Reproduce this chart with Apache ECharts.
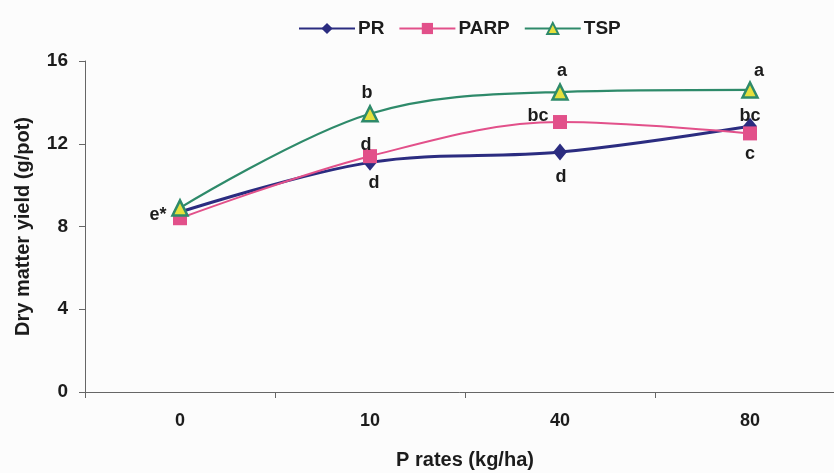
<!DOCTYPE html>
<html>
<head>
<meta charset="utf-8">
<script src="https://cdn.jsdelivr.net/npm/echarts@6/dist/echarts.min.js"></script>
<style>
  html, body { margin: 0; padding: 0; background: #fcfcfc; }
  #chart { width: 834px; height: 473px; }
</style>
</head>
<body>
<div id="chart"></div>
<script>
// P application rates (kg/ha)
const rates = ['0', '10', '40', '80'];

// Dry matter yield (g/pot) per P source
const prYield   = [8.7, 11.1, 11.6, 12.85];
const parpYield = [8.4, 11.4, 13.05, 12.5];
const tspYield  = [8.9, 13.45, 14.5, 14.6];

// Significance letters per point
const prLetters   = ['', 'd', 'd', 'bc'];
const parpLetters = ['', 'd', 'bc', 'c'];
const tspLetters  = ['e*', 'b', 'a', 'a'];

const yTicks = [0, 4, 8, 12, 16];

const FONT = 'Liberation Sans, Arial, sans-serif';
const INK = '#1c1c1c';
const letterStyle = { fontFamily: FONT, fontWeight: 'bold', fontSize: 18, color: INK };

// label offsets from each point's centre, in pixels
const prOffsets   = [null, [4, 21], [1, 25], [0, -10]];
const parpOffsets = [null, [-4, -11], [-22, -6], [0, 21]];
const tspOffsets  = [[-22, 7], [-3, -21], [2, -21], [9, -19]];

function withLetters(values, letters, offsets) {
  return values.map((v, i) => ({
    value: v,
    label: letters[i]
      ? Object.assign({ show: true, formatter: letters[i], position: 'inside', offset: offsets[i] }, letterStyle)
      : { show: false }
  }));
}

const chart = echarts.init(document.getElementById('chart'));
chart.setOption({
  backgroundColor: '#fcfcfc',
  animation: false,
  legend: {
    top: 14,
    left: 293,
    itemWidth: 56,
    itemHeight: 14,
    itemGap: 14,
    textStyle: { fontFamily: FONT, fontWeight: 'bold', fontSize: 19, color: INK, padding: [0, 0, 0, -2] },
    data: ['PR', 'PARP', 'TSP']
  },
  grid: { left: 85, top: 61, width: 760, height: 331, outerBoundsMode: 'none', containLabel: false },
  xAxis: {
    type: 'category',
    data: rates,
    boundaryGap: true,
    name: 'P rates (kg/ha)',
    nameLocation: 'middle',
    nameGap: 58,
    nameTextStyle: { fontFamily: FONT, fontWeight: 'bold', fontSize: 20, color: INK },
    axisLine: { lineStyle: { color: '#666', width: 1 } },
    axisTick: { show: true, length: 6, lineStyle: { color: '#666' } },
    axisLabel: { margin: 20, fontFamily: FONT, fontWeight: 'bold', fontSize: 18, color: INK },
    splitLine: { show: false }
  },
  yAxis: {
    type: 'value',
    min: yTicks[0],
    max: yTicks[yTicks.length - 1],
    interval: 4,
    name: 'Dry matter yield (g/pot)',
    nameLocation: 'middle',
    nameGap: 52,
    nameTextStyle: { fontFamily: FONT, fontWeight: 'bold', fontSize: 20, color: INK },
    axisLine: { show: true, lineStyle: { color: '#666', width: 1 } },
    axisTick: { show: true, length: 6, lineStyle: { color: '#666' } },
    axisLabel: { margin: 17, fontFamily: FONT, fontWeight: 'bold', fontSize: 19, color: INK },
    splitLine: { show: false }
  },
  series: [
    {
      name: 'PR',
      type: 'line',
      smooth: 0.35,
      symbol: 'diamond',
      symbolSize: [14, 17],
      itemStyle: { color: '#2b2c80' },
      lineStyle: { color: '#2b2c80', width: 3 },
      data: withLetters(prYield, prLetters, prOffsets),
      z: 3
    },
    {
      name: 'PARP',
      type: 'line',
      smooth: 0.35,
      symbol: 'rect',
      symbolSize: 14,
      itemStyle: { color: '#e2508a' },
      lineStyle: { color: '#e2508a', width: 2 },
      data: withLetters(parpYield, parpLetters, parpOffsets),
      z: 4
    },
    {
      name: 'TSP',
      type: 'line',
      smooth: 0.35,
      symbol: 'triangle',
      symbolSize: 15,
      itemStyle: { color: '#e6e03c', borderColor: '#2e8a6a', borderWidth: 2.5 },
      lineStyle: { color: '#2e8a6a', width: 2.2 },
      data: withLetters(tspYield, tspLetters, tspOffsets),
      z: 5
    }
  ]
});
</script>
</body>
</html>
